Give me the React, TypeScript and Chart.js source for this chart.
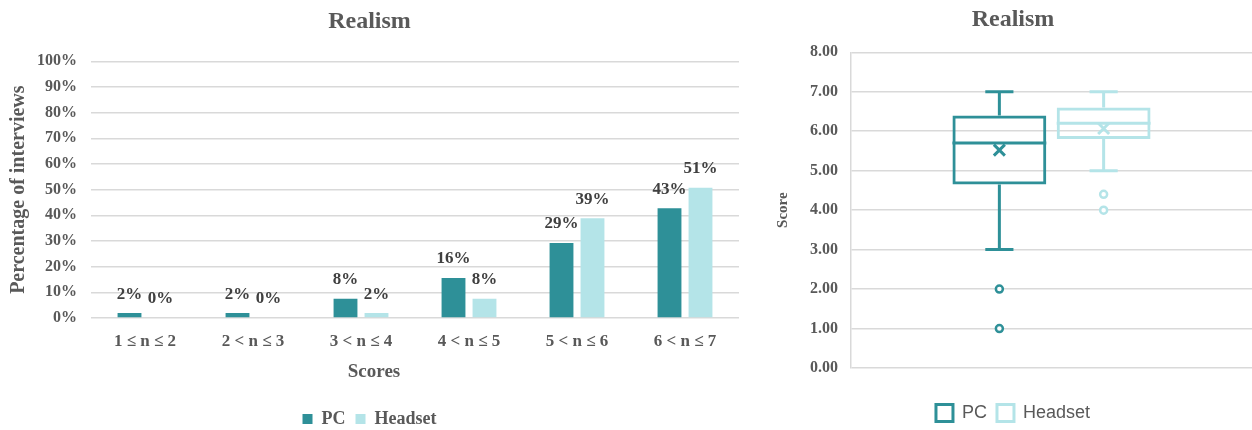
import React, { useEffect, useRef } from "react";
import { Chart, registerables } from "chart.js";

Chart.register(...registerables);

// ---- Data ----
const categories = ["1 ≤ n ≤ 2", "2 < n ≤ 3", "3 < n ≤ 4", "4 < n ≤ 5", "5 < n ≤ 6", "6 < n ≤ 7"];
const seriesNames = ["PC", "Headset"];
const pcPercent = [1.9, 1.9, 7.5, 15.6, 29.2, 42.8];
const headsetPercent = [0, 0, 1.9, 7.5, 38.9, 50.7];

const boxMin = [3, 5];
const boxQ1 = [4.65, 5.8];
const boxMedian = [5.7, 6.2];
const boxQ3 = [6.4, 6.6];
const boxMax = [7, 7];
const boxMean = [5.52, 6.07];
const boxOutliers = [[2, 1], [4.4, 4]];

const titleText = "Realism";
const xAxisTitle = "Scores";
const yAxisTitleLeft = "Percentage of interviews";
const yAxisTitleRight = "Score";

// ---- Styles ----
const PC_COLOR = "#2E9098";
const HS_COLOR = "#B4E4E8";
const TEXT = "#595959";
const GRID = "#D9D9D9";
const SERIF = "'Liberation Serif', 'Times New Roman', serif";
const SANS = "'Liberation Sans', Arial, sans-serif";

const barLabelPlugin = {
  id: "barLabels",
  afterDatasetsDraw(chart: any) {
    const ctx = chart.ctx;
    ctx.save();
    ctx.font = `bold 17px ${SERIF}`;
    ctx.fillStyle = "#404040";
    ctx.textAlign = "center";
    ctx.textBaseline = "middle";
    chart.data.datasets.forEach((ds: any, i: number) => {
      const meta = chart.getDatasetMeta(i);
      meta.data.forEach((el: any, j: number) => {
        const v = ds.data[j] as number;
        ctx.fillText(Math.round(v) + "%", el.x, el.y - 19);
      });
    });
    ctx.restore();
  },
};

const xTitlePlugin = {
  id: "xTitle",
  afterDraw(chart: any) {
    const ctx = chart.ctx;
    ctx.save();
    ctx.font = `bold 19px ${SERIF}`;
    ctx.fillStyle = TEXT;
    ctx.textAlign = "center";
    ctx.textBaseline = "middle";
    ctx.fillText(xAxisTitle, chart.width / 2 + 3, chart.scales.x.top + 54);
    ctx.restore();
  },
};

const boxPlugin = {
  id: "boxDetails",
  afterDatasetsDraw(chart: any) {
    const ctx = chart.ctx;
    const y = chart.scales.y;
    const px = (v: number) => y.getPixelForValue(v);
    chart.data.datasets.forEach((ds: any, i: number) => {
      const el = chart.getDatasetMeta(i).data[0];
      const cx = el.x;
      const w = el.width;
      const cap = w * 0.3;
      ctx.save();
      ctx.strokeStyle = ds.borderColor;
      ctx.lineWidth = 3;
      ctx.beginPath();
      ctx.moveTo(cx, px(boxQ3[i]));
      ctx.lineTo(cx, px(boxMax[i]));
      ctx.moveTo(cx - cap / 2, px(boxMax[i]));
      ctx.lineTo(cx + cap / 2, px(boxMax[i]));
      ctx.moveTo(cx, px(boxQ1[i]));
      ctx.lineTo(cx, px(boxMin[i]));
      ctx.moveTo(cx - cap / 2, px(boxMin[i]));
      ctx.lineTo(cx + cap / 2, px(boxMin[i]));
      ctx.moveTo(cx - w / 2, px(boxMedian[i]));
      ctx.lineTo(cx + w / 2, px(boxMedian[i]));
      ctx.stroke();
      const my = px(boxMean[i]);
      const s = 5.5;
      ctx.beginPath();
      ctx.moveTo(cx - s, my - s);
      ctx.lineTo(cx + s, my + s);
      ctx.moveTo(cx + s, my - s);
      ctx.lineTo(cx - s, my + s);
      ctx.stroke();
      ctx.lineWidth = 2.5;
      ctx.fillStyle = "#ffffff";
      boxOutliers[i].forEach((o) => {
        ctx.beginPath();
        ctx.arc(cx, px(o), 3.5, 0, Math.PI * 2);
        ctx.fill();
        ctx.stroke();
      });
      ctx.restore();
    });
  },
};

export default function App() {
  const leftRef = useRef<HTMLCanvasElement>(null);
  const rightRef = useRef<HTMLCanvasElement>(null);

  useEffect(() => {
    const left = new Chart(leftRef.current as HTMLCanvasElement, {
      type: "bar",
      data: {
        labels: categories,
        datasets: [
          { label: seriesNames[0], data: pcPercent, backgroundColor: PC_COLOR, barPercentage: 0.77, categoryPercentage: 0.574 },
          { label: seriesNames[1], data: headsetPercent, backgroundColor: HS_COLOR, barPercentage: 0.77, categoryPercentage: 0.574 },
        ],
      },
      options: {
        animation: false,
        responsive: true,
        maintainAspectRatio: false,
        layout: { padding: { left: 0, right: 3, top: 0, bottom: -8 } },
        plugins: {
          title: {
            display: true,
            text: titleText,
            color: TEXT,
            font: { family: SERIF, size: 24, weight: "bold" },
            padding: { top: 7, bottom: 25.5 },
          },
          legend: {
            position: "bottom",
            labels: {
              color: TEXT,
              boxWidth: 10,
              boxHeight: 10,
              font: { family: SERIF, size: 18, weight: "bold" },
            },
          },
          tooltip: { enabled: false },
        },
        scales: {
          x: {
            grid: { display: false, drawTicks: false },
            border: { display: false },
            ticks: { color: TEXT, padding: 13, font: { family: SERIF, size: 17, weight: "bold" } },
            afterFit(scale: any) {
              scale.height = 82;
            },
          },
          y: {
            min: 0,
            max: 100,
            ticks: {
              stepSize: 10,
              color: TEXT,
              padding: 14,
              font: { family: SERIF, size: 16, weight: "bold" },
              callback: (v: any) => v + "%",
            },
            grid: { color: GRID, lineWidth: 1.5, drawTicks: false },
            border: { display: false },
            title: {
              display: true,
              text: yAxisTitleLeft,
              color: TEXT,
              font: { family: SERIF, size: 20, weight: "bold" },
              padding: { top: 7, bottom: 0 },
            },
            afterFit(scale: any) {
              scale.width = 91;
            },
          },
        },
      },
      plugins: [barLabelPlugin, xTitlePlugin],
    } as any);

    const right = new Chart(rightRef.current as HTMLCanvasElement, {
      type: "bar",
      data: {
        labels: [""],
        datasets: [
          {
            label: seriesNames[0],
            data: [[boxQ1[0], boxQ3[0]]],
            backgroundColor: "rgba(255,255,255,0)",
            borderColor: PC_COLOR,
            borderWidth: 3,
            borderSkipped: false,
            barPercentage: 0.9,
            categoryPercentage: 0.52,
          },
          {
            label: seriesNames[1],
            data: [[boxQ1[1], boxQ3[1]]],
            backgroundColor: "rgba(255,255,255,0)",
            borderColor: HS_COLOR,
            borderWidth: 3,
            borderSkipped: false,
            barPercentage: 0.9,
            categoryPercentage: 0.52,
          },
        ],
      },
      options: {
        animation: false,
        responsive: true,
        maintainAspectRatio: false,
        layout: { padding: { left: 0, right: 0, top: 0, bottom: -2 } },
        plugins: {
          title: {
            display: true,
            text: titleText,
            color: TEXT,
            font: { family: SERIF, size: 24, weight: "bold" },
            padding: { top: 5, bottom: 18.5 },
          },
          legend: {
            position: "bottom",
            labels: {
              color: TEXT,
              boxWidth: 17,
              boxHeight: 17,
              font: { family: SANS, size: 18 },
            },
          },
          tooltip: { enabled: false },
        },
        scales: {
          x: {
            grid: { display: false, drawTicks: false },
            border: { display: false },
            ticks: { display: false },
            afterFit(scale: any) {
              scale.height = 26;
            },
          },
          y: {
            min: 0,
            max: 8,
            ticks: {
              stepSize: 1,
              color: TEXT,
              padding: 13,
              font: { family: SERIF, size: 16, weight: "bold" },
              callback: (v: any) => Number(v).toFixed(2),
            },
            grid: { color: GRID, lineWidth: 1.5, drawTicks: false },
            border: { display: true, color: GRID, width: 1.5 },
            title: {
              display: true,
              text: yAxisTitleRight,
              color: TEXT,
              font: { family: SERIF, size: 15, weight: "bold" },
              padding: { top: 0, bottom: 0 },
            },
            afterFit(scale: any) {
              scale.width = 77;
            },
          },
        },
      },
      plugins: [boxPlugin],
    } as any);

    return () => {
      left.destroy();
      right.destroy();
    };
  }, []);

  return (
    <div style={{ position: "absolute", left: 0, top: 0, width: 1252, height: 430, background: "#ffffff" }}>
      <div style={{ position: "absolute", left: 0, top: 0, width: 742, height: 430 }}>
        <canvas ref={leftRef} />
      </div>
      <div style={{ position: "absolute", left: 774, top: 0, width: 478, height: 430 }}>
        <canvas ref={rightRef} />
      </div>
    </div>
  );
}
